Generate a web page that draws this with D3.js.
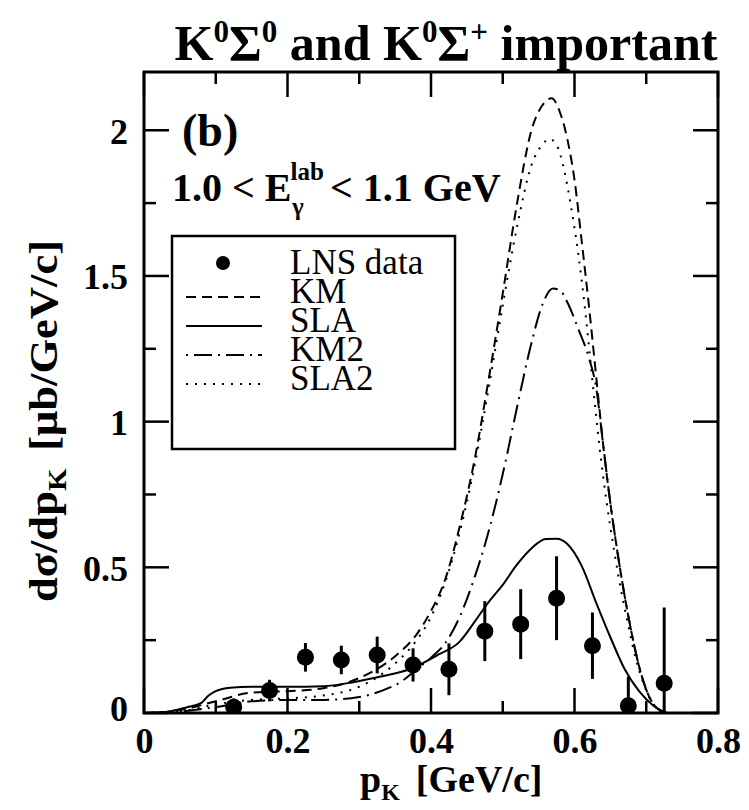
<!DOCTYPE html>
<html><head><meta charset="utf-8">
<script src="https://cdn.jsdelivr.net/npm/d3@7"></script>
<style>
body{margin:0;background:#fff;}
svg text{font-family:"Liberation Serif","Times New Roman","Liberation Sans",Arial,sans-serif !important;}
</style></head>
<body>
<svg id="chart" width="749" height="810"></svg>
<script>
// ---- data ----
const xTicks = [0, 0.2, 0.4, 0.6, 0.8];
const xTickLabels = ["0", "0.2", "0.4", "0.6", "0.8"];
const yTicks = [0, 0.5, 1, 1.5, 2];
const yTickLabels = ["0", "0.5", "1", "1.5", "2"];

const lnsX   = [0.125, 0.175, 0.225, 0.275, 0.325, 0.375, 0.425, 0.475, 0.525, 0.575, 0.625, 0.675, 0.725];
const lnsY   = [0.02, 0.077, 0.191, 0.182, 0.199, 0.165, 0.150, 0.281, 0.305, 0.394, 0.231, 0.025, 0.102];
const lnsErr = [0.03, 0.037, 0.049, 0.049, 0.063, 0.057, 0.089, 0.103, 0.12, 0.144, 0.114, 0.1, 0.26];

const kmX = [0, 0.05, 0.1, 0.15, 0.2, 0.25, 0.3, 0.35, 0.38, 0.4, 0.42, 0.44, 0.46, 0.48, 0.5, 0.52, 0.54, 0.555, 0.568, 0.58, 0.59, 0.6, 0.61, 0.62, 0.63, 0.64, 0.65, 0.66, 0.67, 0.68, 0.69, 0.7, 0.71, 0.72, 0.73];
const kmY = [0, 0.01, 0.04, 0.07, 0.075, 0.085, 0.12, 0.195, 0.27, 0.35, 0.46, 0.64, 0.86, 1.14, 1.44, 1.75, 2.0, 2.085, 2.11, 2.06, 1.97, 1.83, 1.62, 1.40, 1.16, 0.92, 0.72, 0.55, 0.40, 0.27, 0.16, 0.08, 0.03, 0.008, 0];

const slaX = [0, 0.03, 0.06, 0.08, 0.09, 0.1, 0.12, 0.15, 0.2, 0.25, 0.29, 0.33, 0.37, 0.41, 0.44, 0.46, 0.48, 0.5, 0.52, 0.54, 0.56, 0.575, 0.59, 0.61, 0.63, 0.65, 0.67, 0.69, 0.71, 0.725];
const slaY = [0, 0.003, 0.02, 0.035, 0.06, 0.075, 0.087, 0.09, 0.09, 0.092, 0.105, 0.125, 0.15, 0.2, 0.245, 0.31, 0.38, 0.44, 0.51, 0.565, 0.597, 0.598, 0.58, 0.505, 0.38, 0.26, 0.15, 0.075, 0.025, 0.003];

const km2X = [0, 0.05, 0.1, 0.15, 0.2, 0.25, 0.3, 0.33, 0.36, 0.38, 0.4, 0.42, 0.44, 0.46, 0.48, 0.5, 0.52, 0.54, 0.555, 0.57, 0.58, 0.59, 0.605, 0.62, 0.63, 0.64, 0.65, 0.66, 0.67, 0.68, 0.69, 0.7, 0.71, 0.72, 0.73];
const km2Y = [0, 0.005, 0.02, 0.04, 0.045, 0.045, 0.055, 0.075, 0.11, 0.15, 0.19, 0.24, 0.33, 0.46, 0.62, 0.82, 1.05, 1.27, 1.40, 1.457, 1.45, 1.41, 1.32, 1.22, 1.12, 0.92, 0.72, 0.55, 0.40, 0.27, 0.16, 0.08, 0.03, 0.008, 0];

const sla2X = [0, 0.05, 0.1, 0.15, 0.2, 0.25, 0.3, 0.35, 0.38, 0.4, 0.42, 0.44, 0.46, 0.48, 0.5, 0.52, 0.54, 0.555, 0.565, 0.575, 0.585, 0.595, 0.605, 0.615, 0.625, 0.635, 0.645, 0.655, 0.665, 0.675, 0.685, 0.695, 0.705, 0.715, 0.725];
const sla2Y = [0, 0.005, 0.03, 0.045, 0.05, 0.06, 0.09, 0.17, 0.25, 0.33, 0.45, 0.62, 0.84, 1.11, 1.40, 1.67, 1.88, 1.95, 1.97, 1.95, 1.87, 1.74, 1.58, 1.38, 1.14, 0.91, 0.72, 0.56, 0.42, 0.30, 0.19, 0.11, 0.05, 0.015, 0];

const legendLabels = ["LNS data", "KM", "SLA", "KM2", "SLA2"];
const legendDash = [null, "10,6", null, "2,6,18,6", "2,7"];

// ---- layout ----
const FONT = '"Liberation Serif","Times New Roman","Liberation Sans",Arial,sans-serif';
const svg = d3.select("#chart");
const L = 144, R = 718, T = 72, B = 713;
const x = d3.scaleLinear().domain([0, 0.8]).range([L, R]);
const y = d3.scaleLinear().domain([0, 2.2]).range([B, T]);

svg.append("clipPath").attr("id","clip").append("rect")
  .attr("x", L).attr("y", T).attr("width", R-L).attr("height", B-T);

// ticks (inside, all four sides)
const g = svg.append("g");
const majX = d3.range(0, 0.81, 0.2), minX = d3.range(0.1, 0.8, 0.2);
const majY = d3.range(0, 2.01, 0.5), minY = d3.range(0.25, 2.2, 0.5);
const tk = (x1,y1,x2,y2) => g.append("line").attr("x1",x1).attr("y1",y1).attr("x2",x2).attr("y2",y2)
  .attr("stroke","#000").attr("stroke-width",2.5);
majX.forEach(v => { tk(x(v),B,x(v),B-25); tk(x(v),T,x(v),T+25); });
minX.forEach(v => { tk(x(v),B,x(v),B-12); tk(x(v),T,x(v),T+12); });
majY.forEach(v => { tk(L,y(v),L+25,y(v)); tk(R,y(v),R-25,y(v)); });
minY.forEach(v => { tk(L,y(v),L+12,y(v)); tk(R,y(v),R-12,y(v)); });

// axis labels through d3 axes
const xAxis = d3.axisBottom(x).tickValues(xTicks).tickFormat((d,i)=>xTickLabels[i]).tickSize(0).tickPadding(14);
const yAxis = d3.axisLeft(y).tickValues(yTicks).tickFormat((d,i)=>yTickLabels[i]).tickSize(0).tickPadding(16);
const gx = svg.append("g").attr("transform",`translate(0,${B})`).call(xAxis);
const gy = svg.append("g").attr("transform",`translate(${L},0)`).call(yAxis);
[gx,gy].forEach(a => { a.attr("font-family", FONT); a.select(".domain").remove();
  a.selectAll("text").attr("font-family",FONT).attr("font-weight","bold")
   .attr("font-size",36).attr("fill","#000"); });
gx.selectAll("text").attr("dy","0.71em");
gy.selectAll("text").attr("dy","0.36em");
gy.selectAll("text").filter((d,i)=>i===0).attr("dy","0.2em");

// frame
svg.append("rect").attr("x",L).attr("y",T).attr("width",R-L).attr("height",B-T)
  .attr("fill","none").attr("stroke","#000").attr("stroke-width",3);

// curves
const line = d3.line().x(d=>x(d[0])).y(d=>y(d[1])).curve(d3.curveMonotoneX);
const curves = [
  {xs: kmX, ys: kmY, dash: legendDash[1]},
  {xs: slaX, ys: slaY, dash: legendDash[2]},
  {xs: km2X, ys: km2Y, dash: legendDash[3]},
  {xs: sla2X, ys: sla2Y, dash: legendDash[4]},
];
const cg = svg.append("g").attr("clip-path","url(#clip)");
curves.forEach(c => {
  cg.append("path").datum(c.xs.map((v,i)=>[v,c.ys[i]]))
    .attr("d", line).attr("fill","none").attr("stroke","#000").attr("stroke-width",2)
    .attr("stroke-dasharray", c.dash);
});

// data points
const pts = lnsX.map((v,i)=>({x:v, y:lnsY[i], e:lnsErr[i]}));
cg.selectAll(".err").data(pts).join("line")
  .attr("x1",d=>x(d.x)).attr("x2",d=>x(d.x))
  .attr("y1",d=>y(Math.max(0,d.y-d.e))).attr("y2",d=>y(d.y+d.e))
  .attr("stroke","#000").attr("stroke-width",3);
cg.selectAll(".pt").data(pts).join("circle")
  .attr("cx",d=>x(d.x)).attr("cy",d=>y(d.y)).attr("r",8.5).attr("fill","#000");

// legend
const lg = svg.append("g").attr("font-family", FONT);
lg.append("rect").attr("x",172).attr("y",236).attr("width",283).attr("height",213)
  .attr("fill","#fff").attr("stroke","#000").attr("stroke-width",2.5);
legendLabels.forEach((lab,i) => {
  const cy = 263 + i*29;
  if (i===0) lg.append("circle").attr("cx",223).attr("cy",cy).attr("r",7).attr("fill","#000");
  else lg.append("line").attr("x1",186).attr("x2",262).attr("y1",cy+5).attr("y2",cy+5)
    .attr("stroke","#000").attr("stroke-width",2).attr("stroke-dasharray",legendDash[i]);
  lg.append("text").attr("x",290).attr("y",cy+11).attr("font-size",35).attr("font-family",FONT).attr("fill","#000").text(lab);
});

// title
const title = svg.append("text").attr("x",446).attr("y",60).attr("text-anchor","middle")
  .attr("font-family",FONT).attr("font-size",50).attr("font-weight","bold").attr("fill","#000")
  .attr("textLength",543).attr("lengthAdjust","spacingAndGlyphs");
title.append("tspan").text("K");
title.append("tspan").attr("font-size",31).attr("dy",-18).text("0");
title.append("tspan").attr("dy",18).text("Σ");
title.append("tspan").attr("font-size",31).attr("dy",-18).text("0");
title.append("tspan").attr("dy",18).text(" and K");
title.append("tspan").attr("font-size",31).attr("dy",-18).text("0");
title.append("tspan").attr("dy",18).text("Σ");
title.append("tspan").attr("font-size",31).attr("dy",-18).text("+");
title.append("tspan").attr("dy",18).text(" important");

// (b)
svg.append("text").attr("x",182).attr("y",146).attr("font-family",FONT).attr("font-size",46).attr("font-weight","bold").text("(b)");

// energy range
const er = svg.append("text").attr("x",172).attr("y",201).attr("font-family",FONT).attr("font-size",40).attr("font-weight","bold");
er.append("tspan").text("1.0 < E");
er.append("tspan").attr("font-size",25).attr("dy",-21).attr("dx",-1).text("lab");
er.append("tspan").attr("font-size",25).attr("x",292).attr("dy",35).text("γ");
er.append("tspan").attr("x",330).attr("dy",-14).text("< 1.1 GeV");

// x label
const xl = svg.append("text").attr("x",360).attr("y",792).attr("font-family",FONT).attr("font-size",38).attr("font-weight","bold");
xl.append("tspan").text("p");
xl.append("tspan").attr("font-size",24).attr("dy",8).text("K");
xl.append("tspan").attr("dy",-8).attr("dx",16).text("[GeV/c]");

// y label
const yl = svg.append("text").attr("transform","translate(57,602) rotate(-90)").attr("font-family",FONT).attr("font-size",40).attr("font-weight","bold")
  .attr("textLength",362).attr("lengthAdjust","spacingAndGlyphs");
yl.append("tspan").text("dσ/dp");
yl.append("tspan").attr("font-size",26).attr("dy",9).text("K");
yl.append("tspan").attr("dy",-9).attr("dx",16).text("[μb/GeV/c]");
</script>
</body></html>
